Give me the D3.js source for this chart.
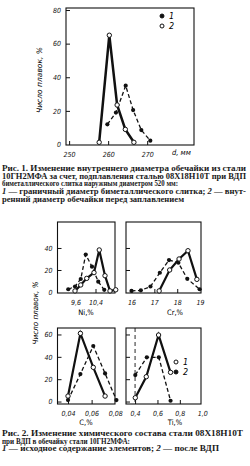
<!DOCTYPE html>
<html>
<head>
<meta charset="utf-8">
<script src="https://cdn.jsdelivr.net/npm/d3@7/dist/d3.min.js"></script>
<style>
  body { margin: 0; background: #fff; }
  svg { display: block; }
  .tick text { font-family: "DejaVu Sans Condensed", "DejaVu Sans", sans-serif; font-style: italic; font-size: 7px; fill: #111; }
  .tick line { stroke: #111; stroke-width: 1; }
  .cap { font-family: "Liberation Serif", "DejaVu Serif", serif; font-size: 7.6px; font-weight: bold; fill: #1a1a1a; }
</style>
</head>
<body>
<div id="chart"></div>
<script>
// ---- data ----
// Fig.1: inner diameter of shell, mm
const diamX1 = [257.7, 260.3, 262.3, 264.4, 266.6];
const diamY1 = [1.3, 65, 23.5, 9, 1.3];            // solid, open circles
const diamX2 = [259.8, 262, 264.5, 266.4, 268.5, 270.8];
const diamY2 = [12, 19, 35, 20.5, 8.6, 2.3];       // dashed, filled circles

// Fig.2 Ni, %
const niX1 = [9.58, 9.81, 10.05, 10.34, 10.55, 10.78, 10.98, 11.21];
const niY1 = [1, 6.4, 12.4, 17.6, 38.2, 14.8, 1, 2];
const niX2 = [9.31, 9.58, 9.81, 10.01, 10.26, 10.51, 10.75];
const niY2 = [2.5, 5, 11.8, 34, 23, 9.4, 2];

// Cr, %
const crX1 = [17.21, 17.67, 18.08, 18.47, 18.86];
const crY1 = [1, 20, 30, 37.5, 11.5];
const crX2 = [16.0, 16.41, 16.83, 17.24, 17.64, 18.05, 18.44, 18.98];
const crY2 = [1, 1.5, 5, 17.5, 29, 26.6, 12, 2.5];

// C, %
const cX1 = [0.04, 0.0505, 0.0614, 0.0714];
const cY1 = [4.9, 61, 30.6, 4.9];
const cX2 = [0.04, 0.0505, 0.0614, 0.0714, 0.081];
const cY2 = [1.3, 24.6, 49.7, 25.2, 1.3];

// Ti, %
const tiX1 = [0.402, 0.5, 0.61, 0.717];
const tiY1 = [3.4, 22.2, 59.5, 26.1];
const tiX2 = [0.402, 0.505, 0.612, 0.717];
const tiY2 = [23.7, 39.6, 39.6, 0.7];
const tiMark = 0.4;   // vertical dashed line

// tick values / labels
const diamXTicks = [250, 260, 270], diamXLabels = ["250", "260", "270"];
const diamYTicks = [0, 20, 40, 60, 80];
const niXTicks = [9.6, 10.4], niXLabels = ["9,6", "10,4"];
const crXTicks = [16, 17, 18, 19], crXLabels = ["16", "17", "18", "19"];
const cXTicks = [0.04, 0.06, 0.08], cXLabels = ["0,04", "0,06", "0,08"];
const tiXTicks = [0.4, 0.6, 0.8, 1.0], tiXLabels = ["0,4", "0,6", "0,8", "1,0"];
const midYTicks = [0, 20, 40];
const lowYTicks = [0, 20, 40, 60];

const cap1 = [
  ["Рис. 1.", " Изменение внутреннего диаметра обечайки из стали"],
  ["", "10ГН2МФА за счет, подплавления сталью 08Х18Н10Т при ВДП"],
  ["", "биметаллического слитка наружным диаметром 520 мм:"],
  ["", "1 — граничный диаметр биметаллического слитка; 2 — внут-"],
  ["", "ренний диаметр обечайки перед заплавлением"]
];
const cap2 = [
  ["Рис. 2.", " Изменение химического состава стали 08Х18Н10Т"],
  ["", "при ВДП в обечайку стали 10ГН2МФА:"],
  ["", "1 — исходное содержание элементов; 2 — после ВДП"]
];

// ---- drawing ----
const W = 250, H = 466;
const svg = d3.select("#chart").append("svg").attr("width", W).attr("height", H);

function zip(xs, ys) { return xs.map((x, i) => [x, ys[i]]); }

function panel(o) {
  const x = d3.scaleLinear().domain(o.xd).range([o.x0, o.x1]);
  const y = d3.scaleLinear().domain(o.yd).range([o.y1, o.y0]);
  const g = svg.append("g");

  // axes, ticks pointing inward
  const ya = d3.axisLeft(y).tickValues(o.yTicks).tickSize(-4).tickPadding(5)
    .tickFormat(o.yLabels ? d => d : () => "");
  g.append("g").attr("transform", "translate(" + o.x0 + ",0)").call(ya)
    .call(a => a.select(".domain").remove())
    .call(a => a.selectAll(".tick line").filter(d => d <= o.yd[0] + 1 || d >= o.yd[1]).remove());

  const xa = d3.axisBottom(x).tickValues(o.xTicks).tickSize(-4).tickPadding(7)
    .tickFormat((d, i) => o.xLabels[i]);
  g.append("g").attr("transform", "translate(0," + o.y1 + ")").call(xa)
    .call(a => a.select(".domain").remove())
    .call(a => a.selectAll(".tick line").filter(d => x(d) <= o.x0 + 1 || x(d) >= o.x1 - 1).remove());

  g.append("rect").attr("x", o.x0).attr("y", o.y0)
    .attr("width", o.x1 - o.x0).attr("height", o.y1 - o.y0)
    .attr("fill", "none").attr("stroke", "#111").attr("stroke-width", 1.1);

  if (o.mark !== undefined) {
    g.append("line").attr("x1", x(o.mark)).attr("x2", x(o.mark))
      .attr("y1", o.y0).attr("y2", o.y1)
      .attr("stroke", "#111").attr("stroke-width", 0.9).attr("stroke-dasharray", "4,3");
  }

  const line = d3.line().x(d => x(d[0])).y(d => y(d[1]));
  g.append("path").datum(o.dashed).attr("d", line).attr("fill", "none")
    .attr("stroke", "#111").attr("stroke-width", 1.3).attr("stroke-dasharray", "4,2.5");
  g.append("path").datum(o.solid).attr("d", line).attr("fill", "none")
    .attr("stroke", "#111").attr("stroke-width", o.sw || 2.2);

  g.selectAll(".fdot").data(o.dashed).join("circle").attr("class", "fdot")
    .attr("cx", d => x(d[0])).attr("cy", d => y(d[1])).attr("r", 2.1).attr("fill", "#111");
  g.selectAll(".odot").data(o.solid).join("circle").attr("class", "odot")
    .attr("cx", d => x(d[0])).attr("cy", d => y(d[1])).attr("r", 2.2)
    .attr("fill", "#fff").attr("stroke", "#111").attr("stroke-width", 1);

  if (o.title) {
    g.append("text").attr("x", o.title[1]).attr("y", o.title[2])
      .attr("text-anchor", o.title[3] || "middle")
      .style("font-family", "DejaVu Sans Condensed, DejaVu Sans, sans-serif")
      .style("font-size", "7.5px").style("font-style", o.title[4] || "normal")
      .text(o.title[0]);
  }
  return g;
}

function legend(lx, ly, items) {
  items.forEach((it, i) => {
    svg.append("circle").attr("cx", lx).attr("cy", ly + i * 10).attr("r", 2)
      .attr("fill", it.filled ? "#111" : "#fff").attr("stroke", "#111").attr("stroke-width", 1);
    svg.append("text").attr("x", lx + 7).attr("y", ly + i * 10 + 3)
      .style("font-family", "DejaVu Sans, sans-serif").style("font-size", "8px")
      .style("font-style", "italic").text(it.label);
  });
}

function ylabel(cx, cy, len) {
  svg.append("text").attr("transform", "translate(" + cx + "," + cy + ") rotate(-90)")
    .attr("text-anchor", "middle")
    .attr("textLength", len).attr("lengthAdjust", "spacingAndGlyphs")
    .style("font-family", "DejaVu Sans Condensed, DejaVu Sans, sans-serif")
    .style("font-size", "7.5px").style("font-style", "italic")
    .text("Число плавок, %");
}

// Fig.1
panel({ x0: 66, x1: 194, y0: 8, y1: 145, xd: [249.2, 282], yd: [-0.3, 81.2],
  xTicks: diamXTicks, xLabels: diamXLabels, yTicks: diamYTicks, yLabels: true,
  solid: zip(diamX1, diamY1), dashed: zip(diamX2, diamY2), sw: 2.5,
  title: ["d, мм", 172, 155, "start", "italic"] });
legend(162, 16, [{ filled: true, label: "1" }, { filled: false, label: "2" }]);
ylabel(42, 80, 66);

// Fig.2
panel({ x0: 57.5, x1: 115, y0: 222, y1: 293, xd: [8.88, 11.18], yd: [-0.9, 63.6],
  xTicks: niXTicks, xLabels: niXLabels, yTicks: midYTicks, yLabels: true,
  solid: zip(niX1, niY1), dashed: zip(niX2, niY2), title: ["Ni,%", 86, 315] });
panel({ x0: 126, x1: 201, y0: 222, y1: 293, xd: [15.76, 19.04], yd: [-0.9, 63.6],
  xTicks: crXTicks, xLabels: crXLabels, yTicks: midYTicks, yLabels: false,
  solid: zip(crX1, crY1), dashed: zip(crX2, crY2), title: ["Cr,%", 175, 315] });
panel({ x0: 57.5, x1: 115, y0: 328, y1: 404, xd: [0.0311, 0.0798], yd: [-2.2, 65.8],
  xTicks: cXTicks, xLabels: cXLabels, yTicks: lowYTicks, yLabels: true,
  solid: zip(cX1, cY1), dashed: zip(cX2, cY2), title: ["C,%", 86, 425] });
panel({ x0: 126, x1: 201, y0: 328, y1: 404, xd: [0.319, 0.989], yd: [-2.2, 65.8],
  xTicks: tiXTicks, xLabels: tiXLabels, yTicks: lowYTicks, yLabels: false,
  solid: zip(tiX1, tiY1), dashed: zip(tiX2, tiY2), mark: tiMark, title: ["Ti,%", 175, 425] });
legend(176, 362, [{ filled: false, label: "1" }, { filled: true, label: "2" }]);
ylabel(38, 313, 63);

// captions
function caption(lines, y0, lens) {
  lines.forEach((ln, i) => {
    const t = svg.append("text").attr("class", "cap").attr("x", 2).attr("y", y0 + i * 7.7);
    if (lens[i]) t.attr("textLength", lens[i]).attr("lengthAdjust", "spacingAndGlyphs");
    if (ln[0]) t.append("tspan").text(ln[0]);
    const rest = ln[1];
    const m = rest.match(/^(1)( — .*; )(2)( — .*)$/);
    if (m) {
      t.append("tspan").style("font-style", "italic").text(m[1]);
      t.append("tspan").text(m[2]);
      t.append("tspan").style("font-style", "italic").text(m[3]);
      t.append("tspan").text(m[4]);
    } else {
      t.append("tspan").text(rest);
    }
  });
}
caption(cap1, 171, [244, 244, 176, 244, 182]);
caption(cap2, 436, [241, 128, 217]);
</script>
</body>
</html>
